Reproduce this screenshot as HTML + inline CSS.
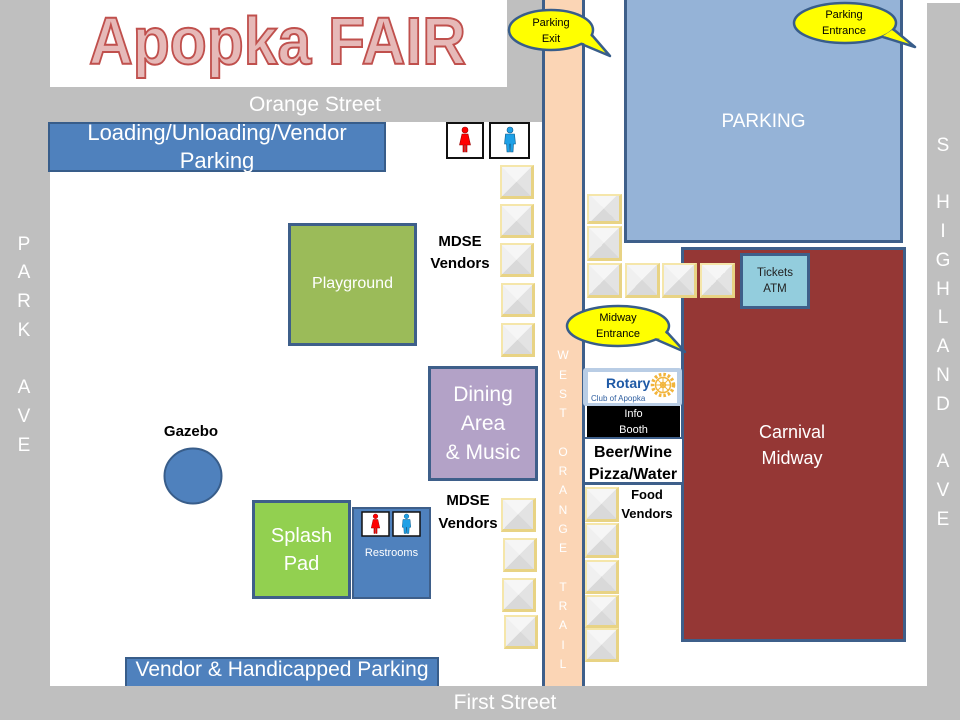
<!DOCTYPE html>
<html><head><meta charset="utf-8"><style>
html,body{margin:0;padding:0}
body{width:960px;height:720px;overflow:hidden;position:relative;background:#bfbfbf;font-family:"Liberation Sans",sans-serif}
.a{position:absolute;box-sizing:border-box}
.w{color:#fff}
.c{text-align:center}
.v{position:absolute;box-sizing:border-box;border:2px solid #f5e6aa;border-right:3px solid #e8d384;border-bottom:3px solid #e8d384;background:conic-gradient(from -45deg,#f6f6f6 0 90deg,#e3e3e3 90deg 180deg,#d9d9d9 180deg 270deg,#f0f0f0 270deg 360deg)}
.stack span{display:block;text-align:center}
.b{font-weight:bold;color:#000}
</style></head><body>
<!-- white areas -->
<div class="a" style="left:50px;top:0;width:457px;height:87px;background:#fff"></div>
<div class="a" style="left:50px;top:122px;width:492px;height:564px;background:#fff"></div>
<div class="a" style="left:584px;top:0;width:343px;height:686px;background:#fff"></div>
<div class="a" style="left:927px;top:0;width:33px;height:3px;background:#fff"></div>

<!-- street labels -->
<div class="a w c" style="left:200px;top:92px;width:230px;font-size:21px;line-height:26px">Orange Street</div>
<div class="a w c" style="left:400px;top:690px;width:210px;font-size:21px;line-height:26px">First Street</div>
<div class="a w stack" style="left:4px;top:230.6px;width:40px;font-size:19px;line-height:28.7px"><span>P</span><span>A</span><span>R</span><span>K</span><span>&nbsp;</span><span>A</span><span>V</span><span>E</span></div>
<div class="a w stack" style="left:923px;top:131.6px;width:40px;font-size:19px;line-height:28.8px"><span>S</span><span>&nbsp;</span><span>H</span><span>I</span><span>G</span><span>H</span><span>L</span><span>A</span><span>N</span><span>D</span><span>&nbsp;</span><span>A</span><span>V</span><span>E</span></div>

<!-- road -->
<div class="a" style="left:542px;top:0;width:43px;height:686px;background:#fbd5b5;border-left:3px solid #3e5f8a;border-right:3px solid #3e5f8a"></div>
<div class="a w stack" style="left:548px;top:346.3px;width:30px;font-size:12px;line-height:19.3px"><span>W</span><span>E</span><span>S</span><span>T</span><span>&nbsp;</span><span>O</span><span>R</span><span>A</span><span>N</span><span>G</span><span>E</span><span>&nbsp;</span><span>T</span><span>R</span><span>A</span><span>I</span><span>L</span></div>

<!-- parking -->
<div class="a" style="left:624px;top:-3px;width:279px;height:246px;background:#95b3d7;border:3px solid #3e5f8a"></div>
<div class="a w c" style="left:624px;top:110px;width:279px;font-size:19px;line-height:24px">PARKING</div>

<!-- carnival -->
<div class="a" style="left:681px;top:247px;width:225px;height:395px;background:#953735;border:3px solid #3e5f8a"></div>
<div class="a w c" style="left:692px;top:419px;width:200px;font-size:18px;line-height:26px">Carnival<br>Midway</div>
<div class="a c" style="left:740px;top:253px;width:70px;height:56px;background:#93cddd;border:3px solid #3e5f8a;color:#222;font-size:11.5px;line-height:16px;padding-top:9px">Tickets<br>ATM</div>

<!-- loading -->
<div class="a" style="left:48px;top:122px;width:338px;height:50px;background:#4f81bd;border:2px solid #385d8a"></div>
<div class="a w c" style="left:48px;top:119px;width:338px;font-size:22px;line-height:28px">Loading/Unloading/Vendor<br>Parking</div>

<!-- playground -->
<div class="a w c" style="left:288px;top:223px;width:129px;height:123px;background:#9bbb59;border:3px solid #3e5f8a;font-size:16px;line-height:20px;padding-top:48px">Playground</div>

<!-- dining -->
<div class="a w c" style="left:428px;top:366px;width:110px;height:115px;background:#b3a2c7;border:3px solid #3e5f8a;font-size:21px;line-height:29px;padding-top:11px">Dining<br>Area<br>&amp; Music</div>

<!-- splash -->
<div class="a w c" style="left:252px;top:500px;width:99px;height:99px;background:#92d050;border:3px solid #3e5f8a;font-size:20px;line-height:28px;padding-top:19px">Splash<br>Pad</div>

<!-- restrooms -->
<div class="a" style="left:352px;top:507px;width:79px;height:92px;background:#4f81bd;border:2px solid #3e5f8a"></div>
<div class="a w c" style="left:352px;top:546px;width:79px;font-size:11px;line-height:14px">Restrooms</div>

<!-- vendor & handicapped -->
<div class="a" style="left:125px;top:657px;width:314px;height:29px;background:#4f81bd;border:2px solid #385d8a;border-bottom:none"></div>
<div class="a w c" style="left:110px;top:657px;width:344px;font-size:21px;line-height:26px">Vendor &amp; Handicapped Parking</div>

<!-- labels -->
<div class="a b c" style="left:410px;top:231px;width:100px;font-size:15px;line-height:22px">MDSE<br>Vendors</div>
<div class="a b c" style="left:418px;top:489px;width:100px;font-size:15px;line-height:23px">MDSE<br>Vendors</div>
<div class="a b c" style="left:141px;top:423px;width:100px;font-size:15px;line-height:18px">Gazebo</div>
<div class="a b c" style="left:607px;top:485px;width:80px;font-size:13px;line-height:19px">Food<br>Vendors</div>

<!-- rotary/info/beer -->
<div class="a" style="left:583px;top:368px;width:99px;height:38px;background:#b9cde5;border-radius:3px"></div>
<div class="a" style="left:588px;top:372px;width:89px;height:31px;background:#fff"></div>
<div class="a" style="left:606px;top:375px;font-size:14px;line-height:16px;font-weight:bold;color:#1f5aa6">Rotary</div>
<div class="a" style="left:591px;top:394px;font-size:8px;line-height:9px;color:#2f5fa0">Club of Apopka</div>
<div class="a w c" style="left:587px;top:406px;width:93px;height:31px;background:#000;font-size:11px;line-height:16px;padding-top:0px">Info<br>Booth</div>
<div class="a" style="left:585px;top:437px;width:97px;height:48px;background:#fff;border-top:2px solid #3e5f8a;border-bottom:3px solid #3e5f8a"></div>
<div class="a b c" style="left:583px;top:442px;width:100px;font-size:16px;line-height:22px">Beer/Wine<br>Pizza/Water</div>

<!-- vendor boxes -->
<div class="v" style="left:500px;top:165px;width:34px;height:34px"></div>
<div class="v" style="left:500px;top:204px;width:34px;height:34px"></div>
<div class="v" style="left:500px;top:243px;width:34px;height:34px"></div>
<div class="v" style="left:501px;top:283px;width:34px;height:34px"></div>
<div class="v" style="left:501px;top:323px;width:34px;height:34px"></div>
<div class="v" style="left:501px;top:498px;width:35px;height:34px"></div>
<div class="v" style="left:503px;top:538px;width:34px;height:34px"></div>
<div class="v" style="left:502px;top:578px;width:34px;height:34px"></div>
<div class="v" style="left:504px;top:615px;width:34px;height:34px"></div>
<div class="v" style="left:587px;top:194px;width:35px;height:30px"></div>
<div class="v" style="left:587px;top:226px;width:35px;height:35px"></div>
<div class="v" style="left:587px;top:263px;width:35px;height:35px"></div>
<div class="v" style="left:625px;top:263px;width:35px;height:35px"></div>
<div class="v" style="left:662px;top:263px;width:35px;height:35px"></div>
<div class="v" style="left:700px;top:263px;width:35px;height:35px"></div>
<div class="v" style="left:585px;top:487px;width:34px;height:35px"></div>
<div class="v" style="left:585px;top:523px;width:34px;height:35px"></div>
<div class="v" style="left:585px;top:560px;width:34px;height:34px"></div>
<div class="v" style="left:585px;top:595px;width:34px;height:33px"></div>
<div class="v" style="left:585px;top:628px;width:34px;height:34px"></div>

<svg class="a" style="left:0;top:0" width="960" height="720" viewBox="0 0 960 720" xmlns="http://www.w3.org/2000/svg">
  <!-- title -->
  <text x="89" y="64" font-family="Liberation Sans, sans-serif" font-weight="bold" font-size="67" textLength="377" lengthAdjust="spacingAndGlyphs" fill="#e6b9b8" stroke="#c0504d" stroke-width="2">Apopka FAIR</text>
  <!-- gazebo -->
  <ellipse cx="193" cy="476" rx="28.5" ry="27.5" fill="#4f81bd" stroke="#385d8a" stroke-width="2"/>
  <!-- rotary gear -->
  <g transform="translate(663,385)" fill="none" stroke="#f2b43a">
    <circle r="10.5" stroke-width="3.5" stroke-dasharray="2.5 2"/>
    <circle r="7.5" stroke-width="1.5"/>
    <circle r="2.5" stroke-width="1.5"/>
    <path d="M0,-7.5V7.5M-7.5,0H7.5M-5.3,-5.3L5.3,5.3M-5.3,5.3L5.3,-5.3" stroke-width="1"/>
  </g>
  <!-- restroom icons top -->
  <rect x="447" y="123" width="36" height="35" fill="#fff" stroke="#111" stroke-width="2"/>
  <rect x="490" y="123" width="39" height="35" fill="#fff" stroke="#111" stroke-width="2"/>
  <g transform="translate(465,127)" fill="#ff0000" stroke="#9a0000" stroke-width="0.6">
    <circle cx="0" cy="3" r="3"/>
    <path d="M-3,7 L3,7 L5.5,18 L2,18 L2,25 L0.5,25 L0.5,18 L-0.5,18 L-0.5,25 L-2,25 L-2,18 L-5.5,18 Z"/>
  </g>
  <g transform="translate(510,127)" fill="#1ea0e6" stroke="#0b5a8a" stroke-width="0.6">
    <circle cx="0" cy="3" r="3"/>
    <path d="M-4.5,7 L4.5,7 L5.5,17 L3.5,17 L3,25 L0.5,25 L0.3,17 L-0.3,17 L-0.5,25 L-3,25 L-3.5,17 L-5.5,17 Z"/>
  </g>
  <!-- restroom icons bottom -->
  <rect x="362" y="512" width="27" height="24" fill="#fff" stroke="#111" stroke-width="1.5"/>
  <rect x="393" y="512" width="27" height="24" fill="#fff" stroke="#111" stroke-width="1.5"/>
  <g transform="translate(375.5,514) scale(0.78)" fill="#ff0000" stroke="#9a0000" stroke-width="0.6">
    <circle cx="0" cy="3" r="3"/>
    <path d="M-3,7 L3,7 L5.5,18 L2,18 L2,25 L0.5,25 L0.5,18 L-0.5,18 L-0.5,25 L-2,25 L-2,18 L-5.5,18 Z"/>
  </g>
  <g transform="translate(406.5,514) scale(0.78)" fill="#1ea0e6" stroke="#0b5a8a" stroke-width="0.6">
    <circle cx="0" cy="3" r="3"/>
    <path d="M-4.5,7 L4.5,7 L5.5,17 L3.5,17 L3,25 L0.5,25 L0.3,17 L-0.3,17 L-0.5,25 L-3,25 L-3.5,17 L-5.5,17 Z"/>
  </g>
  <!-- callouts -->
  <g stroke="#385d8a" stroke-width="2.5" fill="#ffff00" stroke-linejoin="round">
    <polygon points="579,43 591,34 610,56"/>
    <ellipse cx="551" cy="30" rx="42" ry="20"/>
    <polygon points="579,42 590,35 600,47" stroke="none"/>
    <polygon points="883,37 893,29 915,47"/>
    <ellipse cx="845" cy="23" rx="51" ry="20"/>
    <polygon points="883,36 892,30 902,39" stroke="none"/>
    <polygon points="655,339 665,330 685,352"/>
    <ellipse cx="618" cy="326" rx="51" ry="20"/>
    <polygon points="655,338 664,331 672,341" stroke="none"/>
  </g>
  <g font-family="Liberation Sans, sans-serif" font-size="11" fill="#000" text-anchor="middle">
    <text x="551" y="26">Parking</text>
    <text x="551" y="42">Exit</text>
    <text x="844" y="18">Parking</text>
    <text x="844" y="34">Entrance</text>
    <text x="618" y="321">Midway</text>
    <text x="618" y="337">Entrance</text>
  </g>
</svg>
</body></html>
